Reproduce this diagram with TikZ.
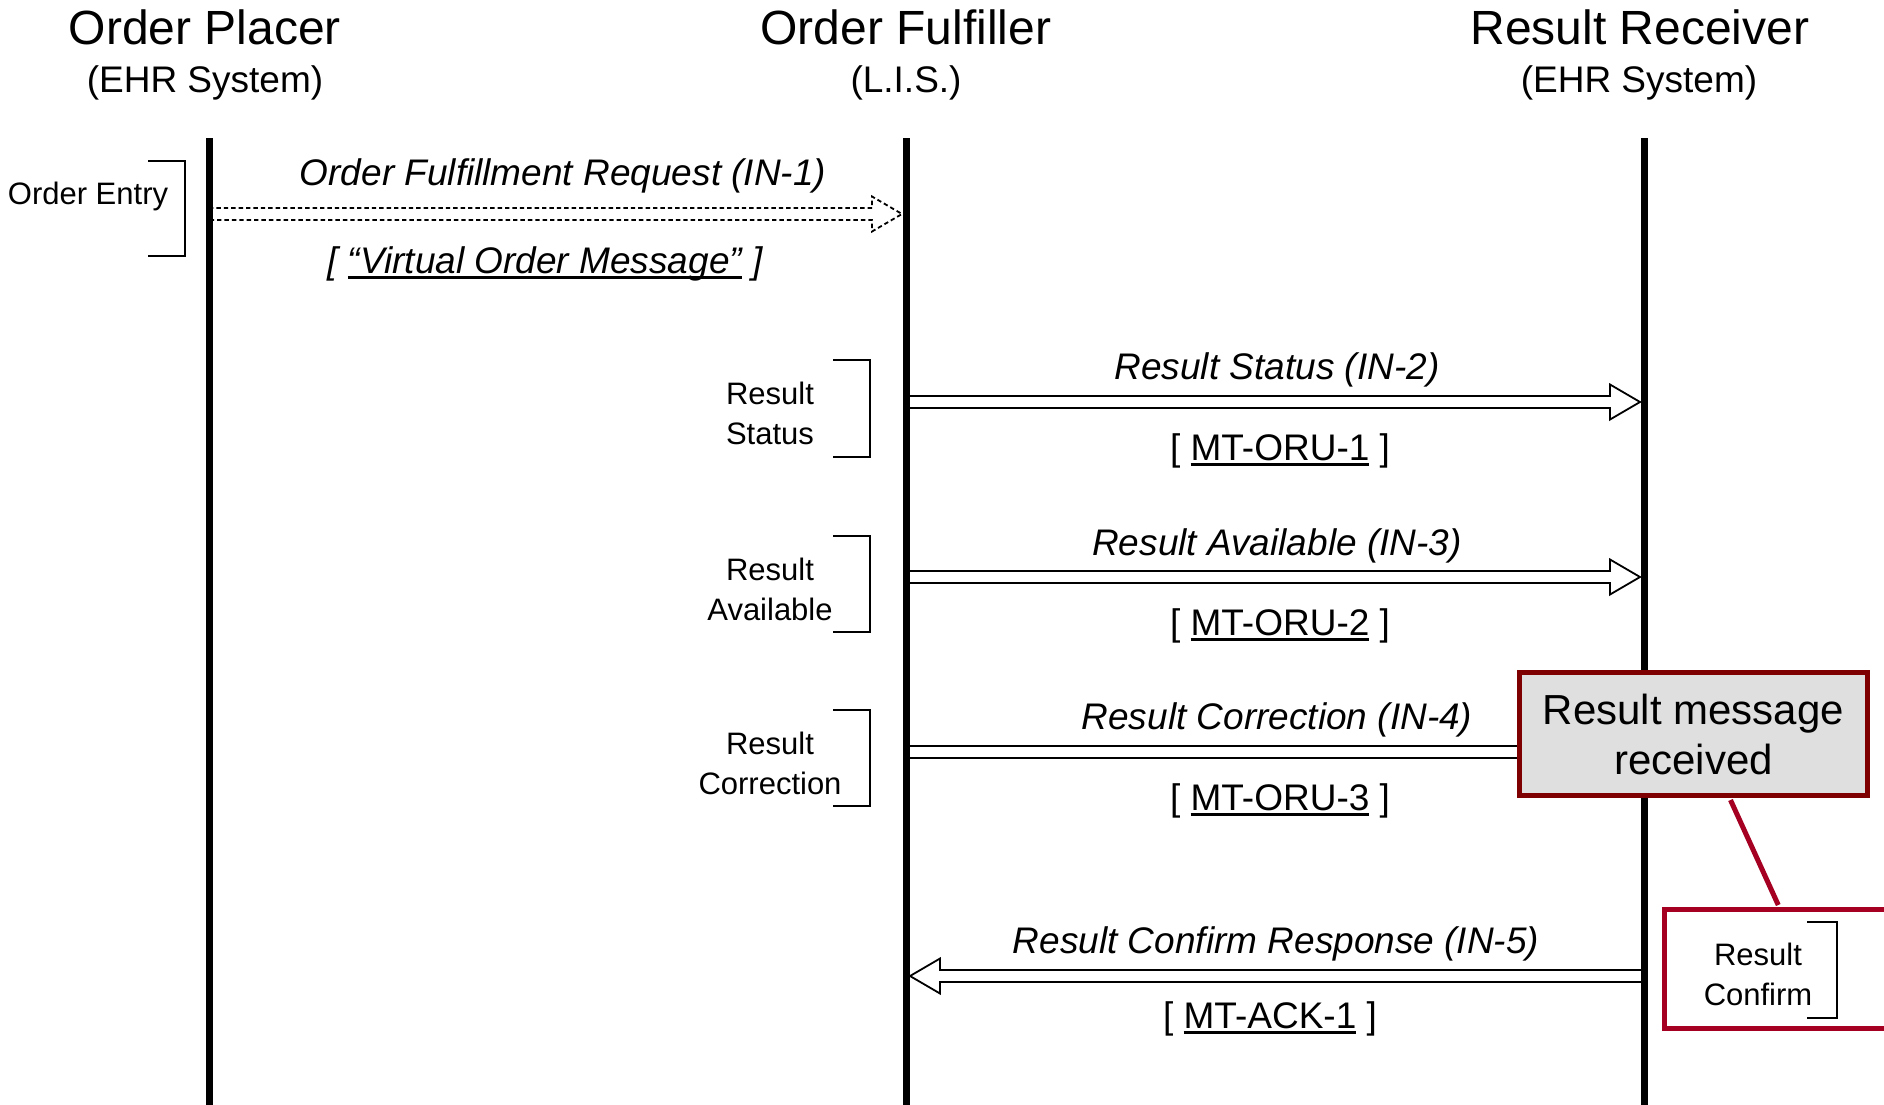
\documentclass[tikz,border=0pt]{standalone}
\usepackage{fontspec}
\setmainfont{Liberation Sans}
\usetikzlibrary{calc}
\definecolor{boxred}{HTML}{7F0000}
\definecolor{linkred}{HTML}{A50021}
\tikzset{
x=0.5pt, y=-0.5pt, % one unit = one pixel of the sketch, y grows downwards
lifeline/.style={line width=3.5pt},
msg/.style={line width=0.9pt, fill=white}, % outline of the wide arrows
brack/.style={line width=1pt},
actor/.style={font=\fontsize{24}{28}\selectfont},
sys/.style={font=\fontsize{18.5}{22}\selectfont},
msglabel/.style={font=\fontsize{18.5}{22}\selectfont\itshape},
msgref/.style={font=\fontsize{18.5}{22}\selectfont},
side/.style={font=\fontsize{15.5}{20}\selectfont, align=center},
note/.style={draw=boxred, line width=2.5pt, fill=gray!25, align=center,
  minimum width=174pt, minimum height=61.5pt, font=\fontsize{21}{25}\selectfont},
confirm/.style={draw=linkred, line width=2.5pt, minimum width=117.75pt, minimum height=59.5pt},
link/.style={draw=linkred, line width=2.5pt},
}
% wide open arrow from #2 (tail) to #3 (tip)
\newcommand{\blockarrow}[3][]{%
  \draw[msg,#1] ($(#2)+(0,3pt)$) -- ($(#3)!15pt!(#2)+(0,3pt)$) -- ($(#3)!15pt!(#2)+(0,8.75pt)$)
    -- (#3) -- ($(#3)!15pt!(#2)+(0,-8.75pt)$) -- ($(#3)!15pt!(#2)+(0,-3pt)$)
    -- ($(#2)+(0,-3pt)$) -- cycle;}
% underlined message type
\newcommand{\refu}[1]{\setbox0=\hbox{#1}\rlap{\rule[-2.6pt]{\wd0}{1.2pt}}\box0\relax}

\begin{document}
\begin{tikzpicture}
\useasboundingbox[fill=white] (0,0) rectangle (1884,1104);
% actors
\node[actor] (op) at (205,27) {Order Placer};
\node[sys] (ops) at (205,83) {(EHR System)};
\node[actor] (of) at (906,27) {Order Fulfiller};
\node[sys] (ofs) at (906,83) {(L.I.S.)};
\node[actor] (rr) at (1640,27) {Result Receiver};
\node[sys] (rrs) at (1639,83) {(EHR System)};
% lifeline ends
\coordinate (p0) at (209,138); \coordinate (pe) at (209,1110);
\coordinate (f0) at (906,138); \coordinate (fe) at (906,1110);
\coordinate (r0) at (1644,138); \coordinate (re) at (1644,1110);
% message ends
\coordinate (p1) at (209,214);  \coordinate (f1) at (902,214);
\coordinate (f2) at (906,402);  \coordinate (r2) at (1640,402);
\coordinate (f3) at (906,577);  \coordinate (r3) at (1640,577);
\coordinate (f4) at (906,752);  \coordinate (r4) at (1640,752);
\coordinate (r5) at (1644,976); \coordinate (f5) at (910,976);
%Messages
\blockarrow[dashed, dash pattern=on 2.2pt off 1.5pt]{p1}{f1}
\blockarrow{f2}{r2}
\blockarrow{f3}{r3}
\blockarrow{f4}{r4}
\blockarrow{r5}{f5}
\node[msglabel] (l1) at (563,176) {Order Fulfillment Request (IN-1)};
\node[msglabel] (m1) at (545,264) {[ \refu{“Virtual Order Message”} ]};
\node[msglabel] (l2) at (1277,370) {Result Status (IN-2)};
\node[msgref] (m2) at (1280,451) {[ \refu{MT-ORU-1} ]};
\node[msglabel] (l3) at (1277,546) {Result Available (IN-3)};
\node[msgref] (m3) at (1280,626) {[ \refu{MT-ORU-2} ]};
\node[msglabel] (l4) at (1277,720) {Result Correction (IN-4)};
\node[msgref] (m4) at (1280,801) {[ \refu{MT-ORU-3} ]};
\node[msglabel] (l5) at (1276,944) {Result Confirm Response (IN-5)};
\node[msgref] (m5) at (1270,1019) {[ \refu{MT-ACK-1} ]};
%Lifelines
\draw[lifeline] (p0) -- (pe);
\draw[lifeline] (f0) -- (fe);
\draw[lifeline] (r0) -- (re);
% triggers
\node[side] (oe) at (88,196) {Order Entry};
\draw[brack] (148,161) -- (185,161) -- (185,256) -- (148,256);
\node[side] (rs) at (770,413) {Result\\Status};
\draw[brack] (833,360) -- (870,360) -- (870,457) -- (833,457);
\node[side] (ra) at (770,589) {Result\\Available};
\draw[brack] (833,536) -- (870,536) -- (870,632) -- (833,632);
\node[side] (rc) at (770,763) {Result\\Correction};
\draw[brack] (833,710) -- (870,710) -- (870,806) -- (833,806);
% notes on the receiver
\node[confirm] (cbox) at (1782,969) {};
\node[note] (resmsg) at (1693.5,734) {Result message\\received};
\draw[link] ($(resmsg.south west)+(213.5,2)$) -- ($(cbox.north west)+(116.5,-2)$);
\node[side] (rcf) at (1758,974) {Result\\Confirm};
\draw[brack] (1807,922) -- (1837,922) -- (1837,1018) -- (1807,1018);
\end{tikzpicture}
\end{document}
